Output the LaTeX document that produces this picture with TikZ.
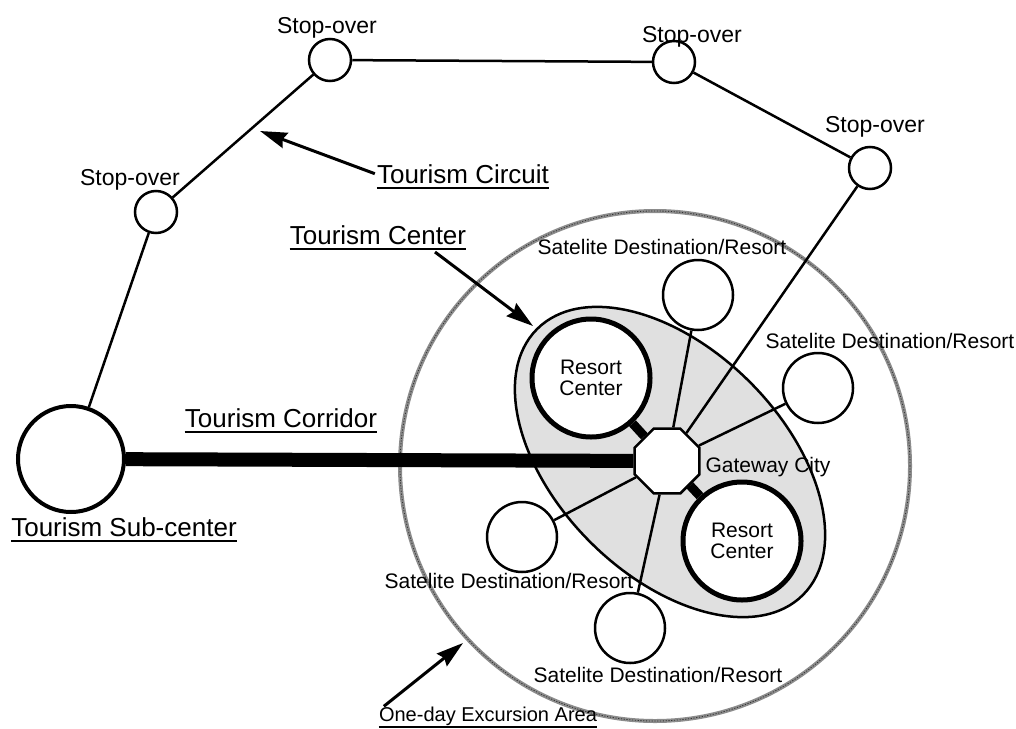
\documentclass[tikz,border=0pt]{standalone}
\usepackage{fontspec}
\setmainfont{Liberation Sans}
\usetikzlibrary{shapes.geometric,arrows.meta}
\begin{document}
\begin{tikzpicture}[x=1pt,y=-1pt,
  stopc/.style={circle,draw,line width=2.5pt,fill=white,minimum size=42pt,inner sep=0pt},
  satc/.style={circle,draw,line width=2.5pt,fill=white,minimum size=70pt,inner sep=0pt},
  resc/.style={circle,draw,line width=5pt,fill=white,minimum size=118pt,inner sep=0pt,align=center,font=\fontsize{21}{21}\selectfont},
  subc/.style={circle,draw,line width=4pt,fill=white,minimum size=106pt,inner sep=0pt},
  gate/.style={regular polygon,regular polygon sides=8,draw,line width=2.5pt,fill=white,minimum size=70pt,inner sep=0pt},
  lab/.style={font=\fontsize{21}{24}\selectfont,inner sep=0pt,anchor=base},
  stoplab/.style={font=\fontsize{23}{26}\selectfont,inner sep=0pt,anchor=base},
  ullab/.style={font=\fontsize{26}{30}\selectfont,inner sep=0pt,anchor=base},
  conn/.style={line width=2.5pt},
  arr/.style={line width=3pt,-{Stealth[length=27pt,width=16pt,inset=3pt]}},
  ulline/.style={line width=2pt}
]
\useasboundingbox (0,0) rectangle (1016,728);

% one-day excursion area
\draw[black!45,line width=4pt] (655,466) circle[radius=255pt];
\draw[black!80,line width=0.8pt,dash pattern=on 1.2pt off 1.6pt] (655,466) circle[radius=255pt];

% tourism center area
\draw[fill=black!12,line width=2.5pt,rotate around={-45:(670,462)}] (670,462) ellipse[x radius=188pt,y radius=113pt];

% nodes
\node[stopc] (s1) at (330,60) {};
\node[stopc] (s2) at (674,62) {};
\node[stopc] (s3) at (870,168) {};
\node[stopc] (s4) at (156,212) {};
\node[subc] (sub) at (71,459) {};
\node[gate] (gw) at (667,461) {};
\node[resc] (r1) at (591,378) {Resort\\Center};
\node[resc] (r2) at (742,541) {Resort\\Center};
\node[satc] (a1) at (698,295) {};
\node[satc] (a2) at (818,388) {};
\node[satc] (a3) at (522,537) {};
\node[satc] (a4) at (630,628) {};

% tourism circuit
\draw[conn] (sub) -- (s4);
\draw[conn] (s4) -- (s1);
\draw[conn] (s1) -- (s2);
\draw[conn] (s2) -- (s3);
\draw[conn] (s3) -- (gw);

% spokes
\draw[conn] (gw) -- (a1);
\draw[conn] (gw) -- (a2);
\draw[conn] (gw) -- (a3);
\draw[conn] (gw) -- (a4);
\draw[line width=9pt] (gw) -- (r1);
\draw[line width=9pt] (gw) -- (r2);

% corridor
\draw[line width=14pt] (sub) -- (gw);

% labels
\node[stoplab] (l1) at (327,33) {Stop-over};
\node[stoplab] (l2) at (692,42) {Stop-over};
\node[stoplab] (l3) at (875,132) {Stop-over};
\node[stoplab] (l4) at (130,185) {Stop-over};
\node[lab] (sl1) at (662,254) {Satelite Destination/Resort};
\node[lab] (sl2) at (890,348) {Satelite Destination/Resort};
\node[lab] (sl3) at (509,588) {Satelite Destination/Resort};
\node[lab] (sl4) at (658,682) {Satelite Destination/Resort};
\node[lab] (gwl) at (768,472) {Gateway City};

\node[ullab] (tcirc) at (463,183) {Tourism Circuit};
\node[ullab] (tcen) at (378,244) {Tourism Center};
\node[ullab] (tcor) at (281,427) {Tourism Corridor};
\node[ullab] (tsub) at (124,536) {Tourism Sub-center};
\node[lab,font=\fontsize{20}{24}\selectfont] (oneday) at (488,721) {One-day Excursion Area};

\foreach \n in {tcirc,tcen,tcor,tsub}
  \draw[ulline] ([yshift=-5pt]\n.base west) -- ([yshift=-5pt]\n.base east);
\draw[ulline] ([yshift=-5.5pt]oneday.base west) -- ([yshift=-5.5pt]oneday.base east);

% arrows
\coordinate (circTip) at (260,131);
\coordinate (cenTail) at (435,252);
\coordinate (cenTip) at (533,326);
\coordinate (dayTip) at (463,643);
\draw[arr] ([xshift=-2pt]tcirc.west) -- (circTip);
\draw[arr] (cenTail) -- (cenTip);
\draw[arr] ([xshift=5pt]oneday.north west) -- (dayTip);
\end{tikzpicture}
\end{document}
